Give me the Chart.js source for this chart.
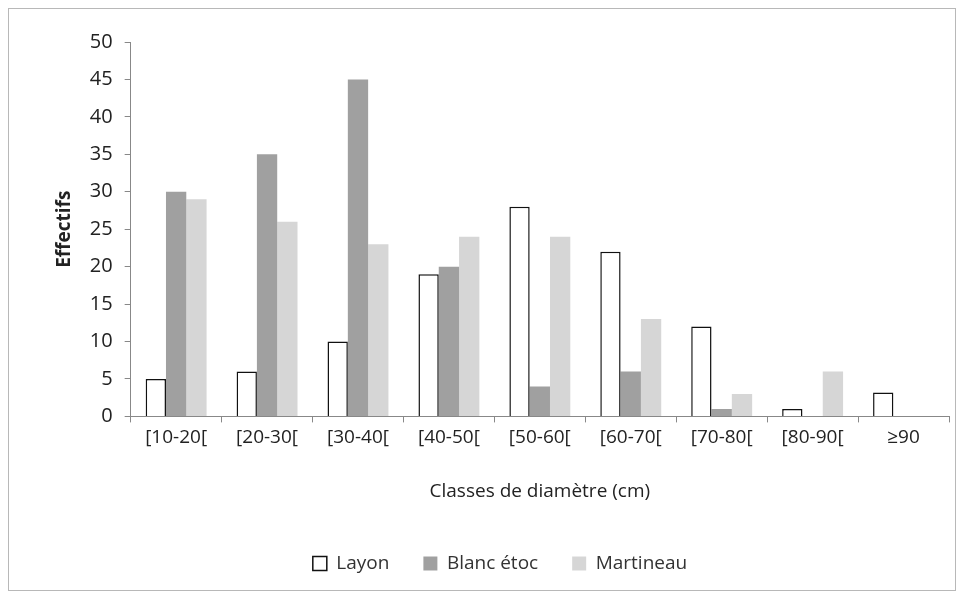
<!DOCTYPE html>
<html>
<head>
<meta charset="utf-8">
<script src="https://cdn.jsdelivr.net/npm/chart.js@4"></script>
<style>
  body { margin: 0; background: #fff; }
  #box { position: absolute; left: 8px; top: 8px; width: 946px; height: 581px; border: 1px solid #b8b8b8; }
</style>
</head>
<body>
<div id="box"><canvas id="chart" width="946" height="581"></canvas></div>
<script>
const categories = ["[10-20[", "[20-30[", "[30-40[", "[40-50[", "[50-60[", "[60-70[", "[70-80[", "[80-90[", "≥90"];
const layon = [5, 6, 10, 19, 28, 22, 12, 1, 3.2];
const blancEtoc = [30, 35, 45, 20, 4, 6, 1, 0, 0];
const martineau = [29, 26, 23, 24, 24, 13, 3, 6, 0];
const yTicks = [0, 5, 10, 15, 20, 25, 30, 35, 40, 45, 50];

const font = "'Open Sans', sans-serif";
const ctx = document.getElementById("chart").getContext("2d");
new Chart(ctx, {
  type: "bar",
  data: {
    labels: categories,
    datasets: [
      { label: "Layon", data: layon, backgroundColor: "#ffffff", borderColor: "#111111", borderWidth: 1.5 },
      { label: "Blanc étoc", data: blancEtoc, backgroundColor: "#a0a0a0", borderWidth: 0 },
      { label: "Martineau", data: martineau, backgroundColor: "#d6d6d6", borderWidth: 0 }
    ]
  },
  options: {
    responsive: false,
    animation: false,
    layout: { padding: { left: 42, right: 6, top: 33, bottom: 7 } },
    datasets: { bar: { categoryPercentage: 0.67, barPercentage: 1 } },
    plugins: {
      tooltip: { enabled: false },
      legend: {
        position: "bottom",
        labels: {
          color: "#333",
          font: { family: font, size: 19 },
          boxWidth: 14,
          boxHeight: 14,
          padding: 34
        }
      }
    },
    scales: {
      x: {
        grid: { display: true, drawOnChartArea: false, color: "#888", tickLength: 6 },
        border: { color: "#888" },
        ticks: { color: "#222", font: { family: font, size: 19 }, maxRotation: 0, padding: 4 },
        title: { display: true, text: "Classes de diamètre (cm)", color: "#222", font: { family: font, size: 19 }, padding: { top: 27, bottom: 17 } }
      },
      y: {
        min: 0,
        max: 50,
        afterBuildTicks: (axis) => { axis.ticks = yTicks.map(v => ({ value: v })); },
        grid: { display: true, drawOnChartArea: false, color: "#888", tickLength: 6 },
        border: { color: "#888" },
        ticks: { color: "#222", font: { family: font, size: 20 }, padding: 12 },
        title: { display: true, text: "Effectifs", color: "#222", font: { family: font, size: 19, weight: "bold" }, padding: 2 }
      }
    }
  }
});
</script>
</body>
</html>
